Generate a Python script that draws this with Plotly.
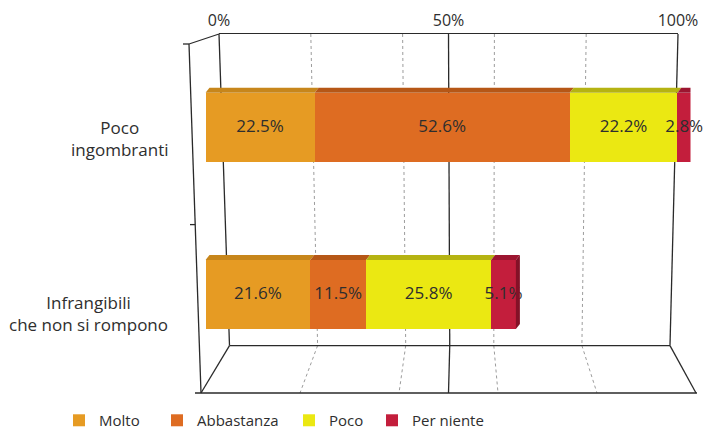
import plotly.graph_objects as go

# ---- data -------------------------------------------------------------
categories = ["Poco<br>ingombranti", "Infrangibili<br>che non si rompono"]
series = ["Molto", "Abbastanza", "Poco", "Per niente"]
molto = [22.5, 21.6]
abbastanza = [52.6, 11.5]
poco = [22.2, 25.8]
per_niente = [2.8, 5.1]
axis_ticks = [0, 50, 100]
axis_tick_labels = ["0%", "50%", "100%"]
grid_steps = [0, 20, 40, 50, 60, 80, 100]

values = [molto, abbastanza, poco, per_niente]

# ---- styling ----------------------------------------------------------
W, H = 718, 431
FONT = "Open Sans"
TEXT = "#2e2e2e"
front_colors = ["#E69B23", "#DE6C22", "#EBE812", "#C31E3C"]
top_colors = ["#C7861B", "#B65716", "#B5B312", "#9C1530"]
side_colors = ["#A86F14", "#984510", "#99970E", "#841127"]

row_pos = [1, 0]            # top row first
BAR_W = 0.414               # bar thickness in row units
ROW_GAP = 167.2             # px between row centres
ROW0_PY = 294.5             # px centre of the lower row
X0_PX, X1_PX = 205.5, 690.5 # px of 0% and 100% on the bar plane
DEPTH_DX, DEPTH_DY = 4, 5   # px offset of the box's back edge

# perspective frame: (x at 0%, x at 100%, y) in px
BACK_TOP = (219, 678, 34)
BACK_BOT = (229.5, 670, 345.6)
FRONT = (201, 696, 393)

legend_text_px = [99, 197, 329, 412]
label_yshift = [-11, -19]


def px(x):
    return x / W


def py(y):
    return 1 - y / H


def along(level, p):
    return level[0] + (level[1] - level[0]) * p / 100.0


ux = (X1_PX - X0_PX) / 100.0          # px per percent
dx_data = DEPTH_DX / ux
dy_data = DEPTH_DY / ROW_GAP

fig = go.Figure()

legend_keys = ["legend"] + [f"legend{i + 1}" for i in range(1, len(series))]

for i, name in enumerate(series):
    fig.add_trace(go.Bar(
        y=row_pos,
        x=values[i],
        orientation="h",
        name=name,
        width=BAR_W,
        marker=dict(color=front_colors[i], line=dict(width=0)),
        textposition="none",
        legend=legend_keys[i],
        showlegend=True,
        hoverinfo="skip",
    ))

# value labels centred on each stacked segment
lab_x, lab_y, lab_t = [], [], []
for r, yc in enumerate(row_pos):
    base = 0.0
    for i in range(len(series)):
        v = values[i][r]
        lab_x.append(base + v / 2)
        lab_y.append(yc)
        lab_t.append(f"{v:.1f}%")
        base += v
fig.add_trace(go.Scatter(
    x=lab_x, y=lab_y, text=lab_t, mode="text", textposition="middle center",
    textfont=dict(family=FONT, size=17, color=TEXT), cliponaxis=False,
    showlegend=False, hoverinfo="skip",
))

# empty trace so the top percentage axis gets its own subplot
fig.add_trace(go.Scatter(x=[], y=[], xaxis="x2", yaxis="y2",
                         showlegend=False, hoverinfo="skip"))

shapes = []

# back wall and floor grid
for p in grid_steps:
    major = p in axis_ticks
    line = dict(color="#2a2a2a", width=1.3) if major else \
        dict(color="#9c9c9c", width=1, dash="dot")
    shapes.append(dict(type="line", xref="paper", yref="paper", layer="below",
                       x0=px(along(BACK_TOP, p)), y0=py(BACK_TOP[2]),
                       x1=px(along(BACK_BOT, p)), y1=py(BACK_BOT[2]),
                       line=line))
    shapes.append(dict(type="line", xref="paper", yref="paper", layer="below",
                       x0=px(along(BACK_BOT, p)), y0=py(BACK_BOT[2]),
                       x1=px(along(FRONT, p)), y1=py(FRONT[2]),
                       line=line))

frame_line = dict(color="#2a2a2a", width=1.3)
frame_segments = [
    ((along(BACK_BOT, 0), BACK_BOT[2]), (along(BACK_BOT, 100), BACK_BOT[2])),
    ((FRONT[0] - 6, FRONT[2]), (FRONT[1] + 1, FRONT[2])),
    ((189, 44), (FRONT[0], FRONT[2])),
    ((189, 44), (BACK_TOP[0], BACK_TOP[2])),
    ((183, 44), (189, 44)),
    ((190, 224.6), (195.2, 224.6)),
]
for (xa, ya), (xb, yb) in frame_segments:
    shapes.append(dict(type="line", xref="paper", yref="paper", layer="below",
                       x0=px(xa), y0=py(ya), x1=px(xb), y1=py(yb),
                       line=frame_line))

# box tops and the right-hand end face of each bar
for r, yc in enumerate(row_pos):
    yt = yc + BAR_W / 2
    yb = yc - BAR_W / 2
    base = 0.0
    for i in range(len(series)):
        a, b = base, base + values[i][r]
        base = b
        path = (f"M{a},{yt} L{b},{yt} L{b + dx_data},{yt + dy_data} "
                f"L{a + dx_data},{yt + dy_data} Z")
        shapes.append(dict(type="path", xref="x", yref="y", path=path,
                           fillcolor=top_colors[i], line=dict(width=0),
                           layer="above"))
        if i == len(series) - 1:
            side = (f"M{b},{yt} L{b},{yb} L{b + dx_data},{yb + dy_data} "
                    f"L{b + dx_data},{yt + dy_data} Z")
            shapes.append(dict(type="path", xref="x", yref="y", path=side,
                               fillcolor=side_colors[i], line=dict(width=0),
                               layer="above"))

# category labels
annotations = []
for r, cat in enumerate(categories):
    annotations.append(dict(
        text=cat, xref="paper", yref="y", x=px(170), y=row_pos[r],
        xanchor="right", yanchor="middle", align="center",
        yshift=label_yshift[r], showarrow=False,
        font=dict(family=FONT, size=17, color=TEXT),
    ))

y_lo = (ROW0_PY - H) / ROW_GAP
y_hi = ROW0_PY / ROW_GAP

layout = dict(
    width=W, height=H, autosize=False,
    margin=dict(l=0, r=0, t=0, b=0, pad=0, autoexpand=False),
    paper_bgcolor="white", plot_bgcolor="rgba(0,0,0,0)",
    barmode="stack",
    hovermode=False,
    showlegend=True,
    font=dict(family=FONT, color=TEXT),
    xaxis=dict(domain=[px(X0_PX), px(X1_PX)], range=[0, 100],
               visible=False, fixedrange=True),
    yaxis=dict(domain=[0, 1], range=[y_lo, y_hi], visible=False,
               fixedrange=True),
    xaxis2=dict(domain=[px(BACK_TOP[0]), px(BACK_TOP[1])], range=[0, 100],
                anchor="y2", side="top", tickvals=axis_ticks,
                ticktext=axis_tick_labels, ticks="", showgrid=False,
                zeroline=False, showline=True, linecolor="#2a2a2a",
                linewidth=1.3, automargin=False,
                tickfont=dict(family=FONT, size=16, color=TEXT),
                fixedrange=True),
    yaxis2=dict(domain=[0, py(BACK_TOP[2])], range=[0, 1], anchor="x2",
                visible=False, fixedrange=True),
    shapes=shapes,
    annotations=annotations,
)

for i, key in enumerate(legend_keys):
    layout[key] = dict(
        x=px(legend_text_px[i] - 40), y=-0.014, xanchor="left",
        yanchor="bottom", orientation="h", bgcolor="rgba(0,0,0,0)",
        borderwidth=0, font=dict(family=FONT, size=15, color=TEXT),
    )

fig.update_layout(**layout)
fig.write_html("out.html")
